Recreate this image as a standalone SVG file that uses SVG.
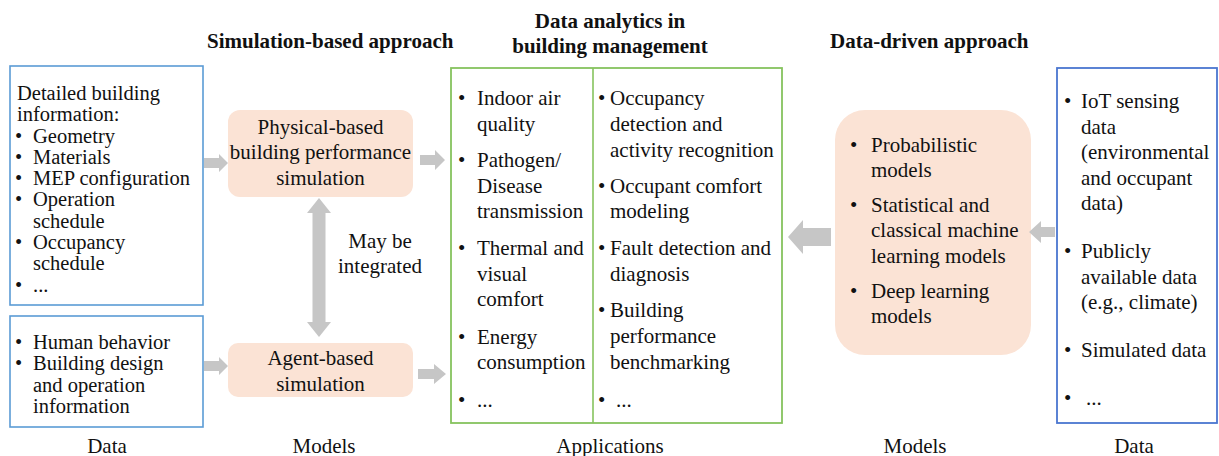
<svg xmlns="http://www.w3.org/2000/svg" width="1219" height="456" viewBox="0 0 1219 456" font-family="'Liberation Serif', 'DejaVu Serif', serif">
<style>
text{font-family:'Liberation Serif','DejaVu Serif',serif;font-size:21px;fill:#111}
.s{font-size:20.5px}
.h{font-weight:bold}
.c{text-anchor:middle}
.bl1{fill:#fff;stroke:#5B9BD5;stroke-width:1.6}
.bl2{fill:#fff;stroke:#4A76D0;stroke-width:1.8}
.gr{fill:#fff;stroke:#86C35E;stroke-width:1.8}
.pe{fill:#FBE3D5}
.ar{fill:#C6C6C6}
</style>
<rect width="1219" height="456" fill="#fff"/>
<g id="headers">
<text class="h" x="207" y="48">Simulation-based approach</text>
<text class="h c" x="610" y="28">Data analytics in</text>
<text class="h c" x="610" y="53">building management</text>
<text class="h" x="830" y="48">Data-driven approach</text>
</g>
<g id="data-left-top">
<rect class="bl1" x="10" y="66" width="193" height="239"/>
<text class="s" x="17" y="100">Detailed building</text>
<text class="s" x="17" y="121">information:</text>
<text class="s" x="15" y="143">•<tspan x="33">Geometry</tspan></text>
<text class="s" x="15" y="164">•<tspan x="33">Materials</tspan></text>
<text class="s" x="15" y="185">•<tspan x="33">MEP configuration</tspan></text>
<text class="s" x="15" y="206">•<tspan x="33">Operation</tspan></text>
<text class="s" x="33" y="228">schedule</text>
<text class="s" x="15" y="249">•<tspan x="33">Occupancy</tspan></text>
<text class="s" x="33" y="270">schedule</text>
<text class="s" x="15" y="292">•<tspan x="33">...</tspan></text>
</g>
<g id="data-left-bottom">
<rect class="bl1" x="10" y="316" width="193" height="111"/>
<text class="s" x="15" y="349">•<tspan x="33">Human behavior</tspan></text>
<text class="s" x="15" y="370">•<tspan x="33">Building design</tspan></text>
<text class="s" x="33" y="392">and operation</text>
<text class="s" x="33" y="413">information</text>
</g>
<g id="physical-sim">
<rect class="pe" x="228" y="110" width="185" height="87" rx="12"/>
<text class="c" x="320.5" y="134">Physical-based</text>
<text class="c" x="320.5" y="159">building performance</text>
<text class="c" x="320.5" y="185">simulation</text>
</g>
<g id="agent-sim">
<rect class="pe" x="228" y="343" width="185" height="54" rx="10"/>
<text class="c" x="320.5" y="365">Agent-based</text>
<text class="c" x="320.5" y="391">simulation</text>
</g>
<g id="integrated-label">
<text class="c" x="380" y="248">May be</text>
<text class="c" x="380" y="273">integrated</text>
</g>
<g id="applications">
<rect class="gr" x="451" y="68" width="331" height="355"/>
<line x1="593" y1="68" x2="593" y2="423" stroke="#86C35E" stroke-width="1.6"/>
<text x="458" y="105">•<tspan x="477">Indoor air</tspan></text>
<text x="477" y="131">quality</text>
<text x="458" y="167">•<tspan x="477">Pathogen/</tspan></text>
<text x="477" y="193">Disease</text>
<text x="477" y="218">transmission</text>
<text x="458" y="255">•<tspan x="477">Thermal and</tspan></text>
<text x="477" y="281">visual</text>
<text x="477" y="306">comfort</text>
<text x="458" y="344">•<tspan x="477">Energy</tspan></text>
<text x="477" y="369">consumption</text>
<text x="458" y="407">•<tspan x="477">...</tspan></text>
<text x="598" y="105">•<tspan x="610">Occupancy</tspan></text>
<text x="610" y="131">detection and</text>
<text x="610" y="157">activity recognition</text>
<text x="598" y="193">•<tspan x="610">Occupant comfort</tspan></text>
<text x="610" y="218">modeling</text>
<text x="598" y="255">•<tspan x="610">Fault detection and</tspan></text>
<text x="610" y="281">diagnosis</text>
<text x="598" y="317">•<tspan x="610">Building</tspan></text>
<text x="610" y="343">performance</text>
<text x="610" y="369">benchmarking</text>
<text x="598" y="407">•<tspan x="616">...</tspan></text>
</g>
<g id="models-right">
<rect class="pe" x="835" y="110" width="196" height="245" rx="30"/>
<text x="850" y="152">•<tspan x="871">Probabilistic</tspan></text>
<text x="871" y="177">models</text>
<text x="850" y="212">•<tspan x="871">Statistical and</tspan></text>
<text x="871" y="237">classical machine</text>
<text x="871" y="263">learning models</text>
<text x="850" y="298">•<tspan x="871">Deep learning</tspan></text>
<text x="871" y="323">models</text>
</g>
<g id="data-right">
<rect class="bl2" x="1057" y="68" width="160" height="355"/>
<text x="1064" y="108">•<tspan x="1081">IoT sensing</tspan></text>
<text x="1081" y="134">data</text>
<text x="1081" y="159">(environmental</text>
<text x="1081" y="185">and occupant</text>
<text x="1081" y="210">data)</text>
<text x="1064" y="258">•<tspan x="1081">Publicly</tspan></text>
<text x="1081" y="284">available data</text>
<text x="1081" y="309">(e.g., climate)</text>
<text x="1064" y="357">•<tspan x="1081">Simulated data</tspan></text>
<text x="1064" y="405">•<tspan x="1086">...</tspan></text>
</g>
<g id="connectors">
<polygon class="ar" points="204,158 219,158 219,154 228,163 219,172 219,168 204,168"/>
<polygon class="ar" points="420,155 435,155 435,150 445,160 435,170 435,165 420,165"/>
<polygon class="ar" points="204,361 219,361 219,357 228,366 219,375 219,371 204,371"/>
<polygon class="ar" points="418,369 434,369 434,364 446,374 434,384 434,379 418,379"/>
<polygon class="ar" points="831,228 803,228 803,220 788,237 803,254 803,246 831,246"/>
<polygon class="ar" points="1055,227 1041,227 1041,221 1029,232 1041,243 1041,237 1055,237"/>
<polygon class="ar" points="319,198 331,213 325.5,213 325.5,322 331,322 319,337 307,322 312.5,322 312.5,213 307,213"/>
</g>
<g id="footer">
<text class="c" x="107" y="453">Data</text>
<text class="c" x="324" y="453">Models</text>
<text class="c" x="610" y="453">Applications</text>
<text class="c" x="915" y="453">Models</text>
<text class="c" x="1134" y="453">Data</text>
</g>
</svg>
